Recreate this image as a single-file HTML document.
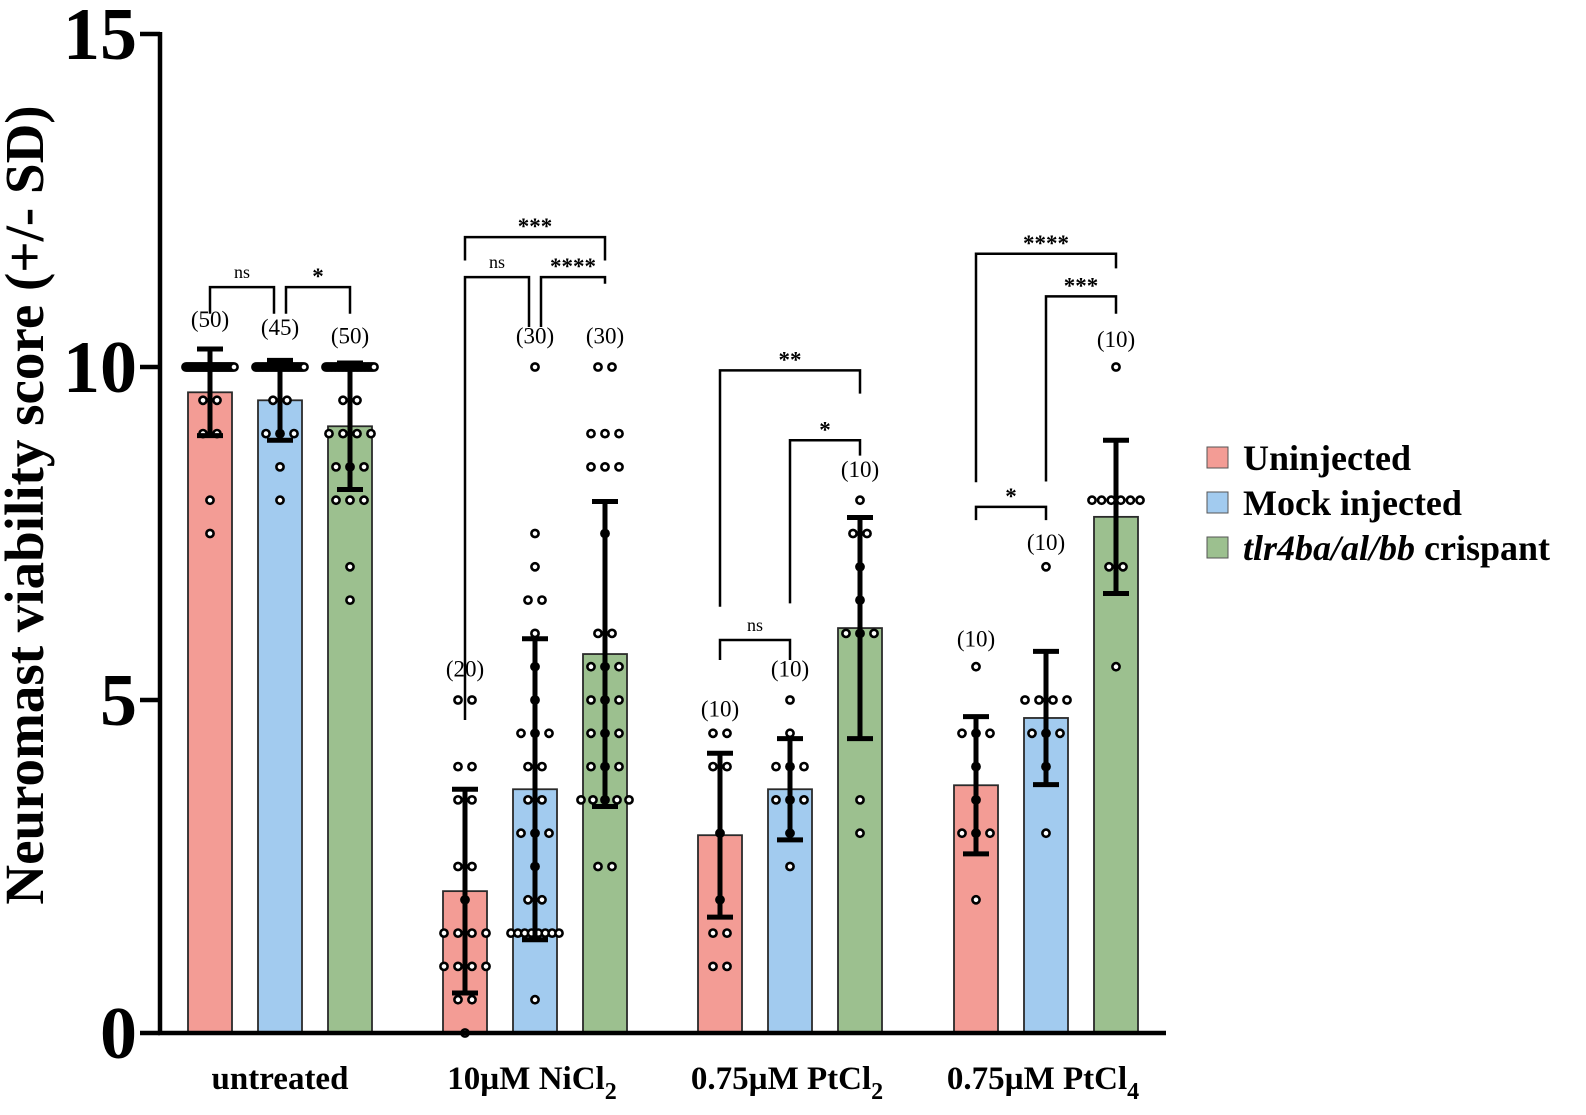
<!DOCTYPE html>
<html><head><meta charset="utf-8"><style>
body{margin:0;background:#fff}
svg{display:block;font-family:"Liberation Serif",serif}
</style></head><body>
<svg id="c" width="1586" height="1115" viewBox="0 0 1586 1115"></svg>
<script>
const categories=["untreated","10µM NiCl2","0.75µM PtCl2","0.75µM PtCl4"];
const seriesNames=["Uninjected","Mock injected","tlr4ba/al/bb crispant"];
const meanUninjected=[9.62,2.13,2.97,3.72];
const meanMock=[9.5,3.66,3.66,4.73];
const meanCrispant=[9.11,5.69,6.08,7.75];
const sdUninjected=[0.65,1.53,1.23,1.03];
const sdMock=[0.6,2.26,0.76,1.0];
const sdCrispant=[0.95,2.29,1.66,1.15];
const nLabels=[["(50)","(45)","(50)"],["(20)","(30)","(30)"],["(10)","(10)","(10)"],["(10)","(10)","(10)"]];
const nLabelValues=[[10.6,10.48,10.35],[5.35,10.35,10.35],[4.75,5.35,8.35],[5.8,7.25,10.3]];
// points as [value,count]
const pointsUninjected=[
 [[10,44],[9.5,2],[9,2],[8,1],[7.5,1]],
 [[5,2],[4,2],[3.5,2],[2.5,2],[2,1],[1.5,4],[1,4],[0.5,2],[0,1]],
 [[4.5,2],[4,2],[3,1],[2,1],[1.5,2],[1,2]],
 [[5.5,1],[4.5,3],[4,1],[3.5,1],[3,3],[2,1]]];
const pointsMock=[
 [[10,38],[9.5,2],[9,3],[8.5,1],[8,1]],
 [[10,1],[7.5,1],[7,1],[6.5,2],[6,1],[5.5,1],[5,1],[4.5,3],[4,2],[3.5,2],[3,3],[2.5,1],[2,2],[1.5,8],[0.5,1]],
 [[5,1],[4.5,1],[4,3],[3.5,3],[3,1],[2.5,1]],
 [[7,1],[5,4],[4.5,3],[4,1],[3,1]]];
const pointsCrispant=[
 [[10,36],[9.5,2],[9,4],[8.5,3],[8,3],[7,1],[6.5,1]],
 [[10,2],[9,3],[8.5,3],[7.5,1],[6,2],[5.5,3],[5,3],[4.5,3],[4,3],[3.5,5],[2.5,2]],
 [[8,1],[7.5,2],[7,1],[6.5,1],[6,3],[3.5,1],[3,1]],
 [[10,1],[8,6],[7,2],[5.5,1]]];
// brackets: [group, barA, barB, topValue, legAValue, legBValue, label, offA, offB]
const brackets=[
 [0,0,1,11.2,10.8,10.8,"ns",0,-6],[0,1,2,11.2,10.8,10.8,"*",6,0],
 [1,0,2,11.95,11.6,11.6,"***",0,0],[1,0,1,11.35,4.7,10.6,"ns",0,-6],[1,1,2,11.35,10.6,11.25,"****",6,0],
 [2,0,2,9.95,6.4,9.6,"**",0,0],[2,1,2,8.9,6.45,8.67,"*",0,0],[2,0,1,5.9,5.6,5.6,"ns",0,0],
 [3,0,2,11.7,8.27,11.48,"****",0,0],[3,1,2,11.06,8.28,10.8,"***",0,0],[3,0,1,7.9,7.7,7.7,"*",0,0]];
const yTicks=[0,5,10,15];
const colors=["#f39c95","#a2cbef","#9cc08f"];
const means=[meanUninjected,meanMock,meanCrispant];
const sds=[sdUninjected,sdMock,sdCrispant];
const pts=[pointsUninjected,pointsMock,pointsCrispant];

const svg=document.getElementById('c');
const NS="http://www.w3.org/2000/svg";
function mk(tag,attrs,parent){const e=document.createElementNS(NS,tag);for(const k in attrs)e.setAttribute(k,attrs[k]);(parent||svg).appendChild(e);return e;}
const y=v=>1033-v*66.6;
const groupX=[210,465,720,976];
const x=(g,s)=>groupX[g]+s*70;
const barW=44;

for(let s=0;s<3;s++)for(let g=0;g<4;g++){
 const b=mk('rect',{x:x(g,s)-barW/2,y:y(means[s][g]),width:barW,height:y(0)-y(means[s][g]),fill:colors[s],stroke:'#2a2a2a','stroke-width':1.8});
 
 
}
for(let s=0;s<3;s++)for(let g=0;g<4;g++){
 pts[s][g].forEach(([v,n])=>{
  const sp=n>1?Math.min(14,48/(n-1)):0;
  for(let i=0;i<n;i++){
   const c=mk('circle',{cx:x(g,s)+(i-(n-1)/2)*sp,cy:y(v),r:3.6,fill:'#fff',stroke:'#000','stroke-width':2.6});
   
   
  }
 });
}
for(let s=0;s<3;s++)for(let g=0;g<4;g++){
 const m=means[s][g],d=sds[s][g],cx=x(g,s);
 const e=mk('g',{stroke:'#000','stroke-width':5});
 
 
 mk('line',{x1:cx,x2:cx,y1:y(m+d),y2:y(m-d)},e);
 mk('line',{x1:cx-13,x2:cx+13,y1:y(m+d),y2:y(m+d)},e);
 mk('line',{x1:cx-13,x2:cx+13,y1:y(m-d),y2:y(m-d)},e);
}
for(let g=0;g<4;g++)for(let s=0;s<3;s++){
 const t=mk('text',{x:x(g,s),y:y(nLabelValues[g][s]),'font-size':23,'text-anchor':'middle'});
 t.textContent=nLabels[g][s];
 
 
}
brackets.forEach(([g,a,b,top,la,lb,lab,oa,ob])=>{
 const xa=x(g,a)+oa,xb=x(g,b)+ob;
 const p=mk('path',{d:`M${xa},${y(la)}V${y(top)}H${xb}V${y(lb)}`,fill:'none',stroke:'#000','stroke-width':2.5});
 
 
 const big=lab!=="ns";
 const t=mk('text',{x:(xa+xb)/2,y:y(top)-(big?3:9),'font-size':big?23:18,'font-weight':big?'bold':'normal','text-anchor':'middle'});
 t.textContent=lab;
 
 
});
const ax=mk('g',{stroke:'#000','stroke-width':4.5});


mk('line',{x1:160,x2:160,y1:32,y2:1035},ax);
mk('line',{x1:158,x2:1166,y1:1033,y2:1033},ax);
yTicks.forEach(v=>{
 mk('line',{x1:140,x2:160,y1:y(v),y2:y(v)},ax);
 const t=mk('text',{x:137,y:y(v)+25,'font-size':74,'font-weight':'bold','text-anchor':'end'});
 t.textContent=v;
 
 
});
const xl=[["untreated",""],["10µM NiCl","2"],["0.75µM PtCl","2"],["0.75µM PtCl","4"]];
xl.forEach(([a,sub],g)=>{
 const t=mk('text',{x:x(g,1)-(sub?3:0),y:1089,'font-size':33,'font-weight':'bold','text-anchor':'middle'});
 t.textContent=a;
 if(sub){const ts=mk('tspan',{dy:10,'font-size':24},t);ts.textContent=sub;}
 
 
});
const yt=mk('text',{x:0,y:0,transform:'translate(43,505) rotate(-90)','font-size':55,'font-weight':'bold','text-anchor':'middle'});
yt.textContent="Neuromast viability score (+/- SD)";


const lg=mk('g',{});


seriesNames.forEach((n,i)=>{
 const yy=458+i*45;
 const r=mk('rect',{x:1207,y:yy-11,width:21,height:21,fill:colors[i],stroke:'#555','stroke-width':1},lg);
 
 
 const t=mk('text',{x:1243,y:yy+12,'font-size':36,'font-weight':'bold'},lg);
 if(i===2){const it=mk('tspan',{'font-style':'italic'},t);it.textContent="tlr4ba/al/bb";const r2=mk('tspan',{},t);r2.textContent=" crispant";}
 else t.textContent=n;
 
 
});
</script>
</body></html>
